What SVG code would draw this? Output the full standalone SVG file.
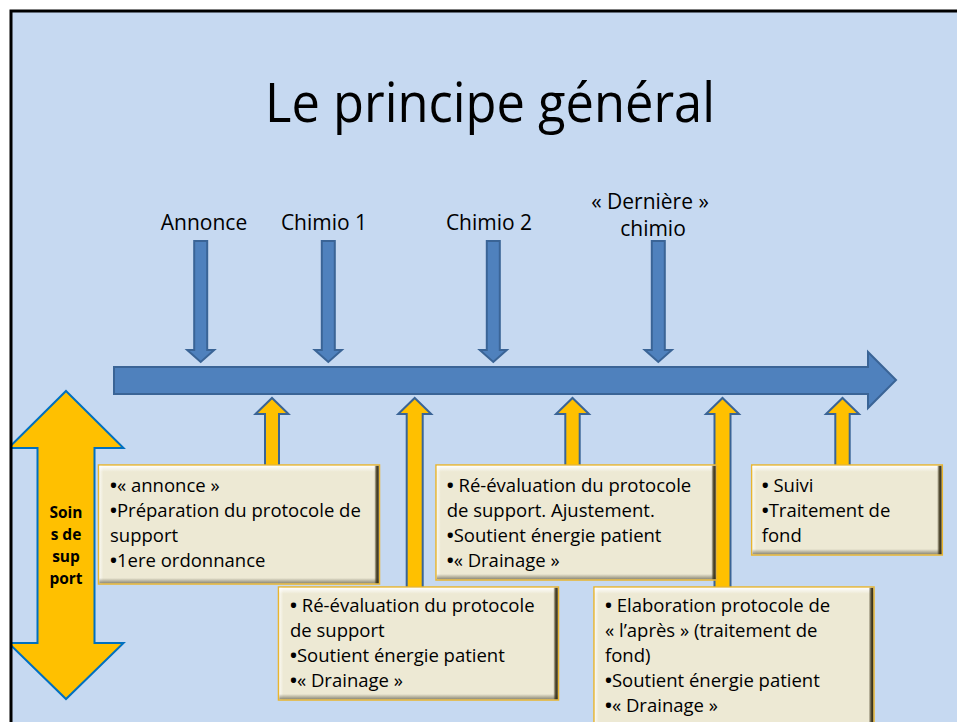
<svg xmlns="http://www.w3.org/2000/svg" width="957" height="722" viewBox="0 0 957 722">
<defs>
<style>
text{font-family:"Open Sans","Liberation Sans",sans-serif;fill:#000}
.title{font-size:55px;text-anchor:middle}
.lbl{font-size:21px;text-anchor:middle}
.bx{font-size:18.5px}
.b{font-weight:bold}
.soins{font-size:15.5px;font-weight:bold;text-anchor:middle}
.down{fill:#4F81BD;stroke:#3A6496;stroke-width:2;stroke-linejoin:miter}
.up{fill:#FFC000;stroke:#3A6496;stroke-width:2;stroke-linejoin:miter}
.box{fill:#EDE9D4;stroke:#E9B52E;stroke-width:1.5}
.bt{fill:url(#gTop)}
.bl{fill:url(#gLeft)}
.br{fill:url(#gRight)}
.bb{fill:url(#gBot)}
</style>
<linearGradient id="gTop" x1="0" y1="0" x2="0" y2="1"><stop offset="0" stop-color="#fff" stop-opacity="0.95"/><stop offset="1" stop-color="#fff" stop-opacity="0"/></linearGradient>
<linearGradient id="gLeft" x1="0" y1="0" x2="1" y2="0"><stop offset="0" stop-color="#fff" stop-opacity="0.7"/><stop offset="1" stop-color="#fff" stop-opacity="0"/></linearGradient>
<linearGradient id="gRight" x1="0" y1="0" x2="1" y2="0"><stop offset="0" stop-color="#3A3218" stop-opacity="0.15"/><stop offset="0.5" stop-color="#3A3218" stop-opacity="0.85"/><stop offset="1" stop-color="#2E2812" stop-opacity="1"/></linearGradient>
<linearGradient id="gBot" x1="0" y1="0" x2="0" y2="1"><stop offset="0" stop-color="#6E6A58" stop-opacity="0"/><stop offset="1" stop-color="#6E6A58" stop-opacity="0.75"/></linearGradient>
</defs>
<rect x="0" y="0" width="957" height="722" fill="#fff"/>
<rect x="11" y="11" width="960" height="730" fill="#C6D9F1"/>

<text class="title" x="490" y="122" textLength="450" lengthAdjust="spacingAndGlyphs">Le principe général</text>

<g id="label-annonce"><text class="lbl" x="204" y="230">Annonce</text></g>
<g id="label-chimio1"><text class="lbl" x="324" y="230">Chimio 1</text></g>
<g id="label-chimio2"><text class="lbl" x="489" y="230">Chimio 2</text></g>
<g id="label-derniere"><text class="lbl" x="650" y="209">« Dernière »</text><text class="lbl" x="653" y="236">chimio</text></g>

<g id="connectors">
<path class="down" d="M194.2,241 H207.2 V350 H214.2 L200.7,362 L187.2,350 H194.2 Z"/>
<path class="down" d="M321.8,241 H334.8 V350 H341.8 L328.3,362 L314.8,350 H321.8 Z"/>
<path class="down" d="M486.8,241 H499.8 V350 H506.8 L493.3,362 L479.8,350 H486.8 Z"/>
<path class="down" d="M651.8,241 H664.8 V350 H671.8 L658.3,362 L644.8,350 H651.8 Z"/>
<path id="timeline" class="down" d="M114,367 H868 V352 L896,380 L868,408 V394 H114 Z"/>
<path class="up" d="M265,468 V414 H255.5 L272,398 L288.5,414 H279 V468 Z"/>
<path class="up" d="M406.7,590 V414 H398.2 L414.7,398 L431.2,414 H422.7 V590 Z"/>
<path class="up" d="M565.3,468 V414 H556 L572.5,398 L589,414 H579.7 V468 Z"/>
<path class="up" d="M714.5,590 V414 H706 L722.5,398 L739,414 H730.5 V590 Z"/>
<path class="up" d="M835.3,468 V414 H826 L842.5,398 L859,414 H849.7 V468 Z"/>
</g>

<g id="soins-de-support">
<path d="M66,391 L123.5,448 H94.5 V643 H123.5 L66,699 L8.5,643 H37.5 V448 H8.5 Z" fill="#FFC000" stroke="#0070C0" stroke-width="2"/>
<text class="soins" x="66" y="518">Soin</text>
<text class="soins" x="66" y="540">s de</text>
<text class="soins" x="66" y="562">sup</text>
<text class="soins" x="66" y="584">port</text>
</g>

<g id="box1">
<rect class="box" x="98.5" y="465" width="281" height="119"/>
<rect class="bt" x="99.3" y="465.8" width="279.4" height="6"/>
<rect class="bl" x="99.3" y="465.8" width="4" height="117.4"/>
<rect class="bb" x="99.3" y="578" width="279.4" height="5.2"/>
<rect class="br" x="374.5" y="465.8" width="4.2" height="117.4"/>
<text class="bx" x="110" y="492"><tspan class="b">•</tspan>« annonce »</text>
<text class="bx" x="110" y="517"><tspan class="b">•</tspan>Préparation du protocole de</text>
<text class="bx" x="110" y="542">support</text>
<text class="bx" x="110" y="567"><tspan class="b">•</tspan>1ere ordonnance</text>
</g>

<g id="box2">
<rect class="box" x="278.5" y="587" width="280" height="113"/>
<rect class="bt" x="279.3" y="587.8" width="278.4" height="6"/>
<rect class="bl" x="279.3" y="587.8" width="4" height="111.4"/>
<rect class="bb" x="279.3" y="694" width="278.4" height="5.2"/>
<rect class="br" x="553.5" y="587.8" width="4.2" height="111.4"/>
<text class="bx" x="290" y="612"><tspan class="b">•</tspan> Ré-évaluation du protocole</text>
<text class="bx" x="290" y="637">de support</text>
<text class="bx" x="290" y="662"><tspan class="b">•</tspan>Soutient énergie patient</text>
<text class="bx" x="290" y="687"><tspan class="b">•</tspan>« Drainage »</text>
</g>

<g id="box3">
<rect class="box" x="436" y="465" width="280.5" height="115"/>
<rect class="bt" x="436.8" y="465.8" width="278.9" height="6"/>
<rect class="bl" x="436.8" y="465.8" width="4" height="113.4"/>
<rect class="bb" x="436.8" y="574" width="278.9" height="5.2"/>
<rect class="br" x="711.5" y="465.8" width="4.2" height="113.4"/>
<text class="bx" x="446.7" y="492"><tspan class="b">•</tspan> Ré-évaluation du protocole</text>
<text class="bx" x="446.7" y="517">de support. Ajustement.</text>
<text class="bx" x="446.7" y="542"><tspan class="b">•</tspan>Soutient énergie patient</text>
<text class="bx" x="446.7" y="567"><tspan class="b">•</tspan>« Drainage »</text>
</g>

<g id="box4">
<rect class="box" x="594" y="587" width="280" height="150"/>
<rect class="bt" x="594.8" y="587.8" width="278.4" height="6"/>
<rect class="bl" x="594.8" y="587.8" width="4" height="148"/>
<rect class="br" x="869" y="587.8" width="4.2" height="148"/>
<text class="bx" x="605" y="612"><tspan class="b">•</tspan> Elaboration protocole de</text>
<text class="bx" x="605" y="637">« l’après » (traitement de</text>
<text class="bx" x="605" y="662">fond)</text>
<text class="bx" x="605" y="687"><tspan class="b">•</tspan>Soutient énergie patient</text>
<text class="bx" x="605" y="712"><tspan class="b">•</tspan>« Drainage »</text>
</g>

<g id="box5">
<rect class="box" x="751.7" y="465" width="190.6" height="90"/>
<rect class="bt" x="752.5" y="465.8" width="189" height="6"/>
<rect class="bl" x="752.5" y="465.8" width="4" height="88.4"/>
<rect class="bb" x="752.5" y="549" width="189" height="5.2"/>
<rect class="br" x="937.3" y="465.8" width="4.2" height="88.4"/>
<text class="bx" x="761.7" y="492"><tspan class="b">•</tspan> Suivi</text>
<text class="bx" x="761.7" y="517"><tspan class="b">•</tspan>Traitement de</text>
<text class="bx" x="761.7" y="542">fond</text>
</g>

<rect x="0" y="0" width="10" height="722" fill="#fff"/>
<rect x="0" y="0" width="957" height="9.5" fill="#fff"/>
<path d="M11,722 V11 H957" fill="none" stroke="#000" stroke-width="3"/>
</svg>
